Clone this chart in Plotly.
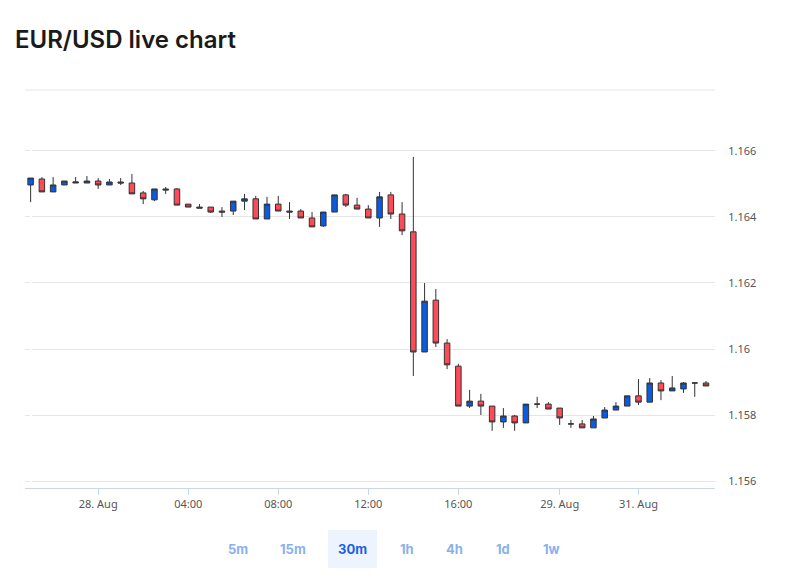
import plotly.graph_objects as go

opens  = [1.16497,1.16515,1.16476,1.16497,1.16503,1.16503,1.16509,1.16497,1.16506,1.16503,
          1.16473,1.16452,1.16485,1.16485,1.16439,1.16430,1.16430,1.16418,1.16418,1.16448,
          1.16455,1.16394,1.16439,1.16418,1.16418,1.16397,1.16373,1.16415,1.16467,1.16436,
          1.16424,1.16397,1.16467,1.16409,1.16355,1.15991,1.16148,1.16018,1.15948,1.15827,
          1.15842,1.15827,1.15779,1.15797,1.15776,1.15833,1.15833,1.15821,1.15773,1.15773,
          1.15761,1.15791,1.15815,1.15827,1.15858,1.15839,1.15897,1.15873,1.15879,1.15897,1.15897]
highs  = [1.16518,1.16521,1.16521,1.16509,1.16521,1.16524,1.16518,1.16515,1.16518,1.16530,
          1.16479,1.16485,1.16491,1.16488,1.16439,1.16439,1.16430,1.16430,1.16448,1.16470,
          1.16464,1.16461,1.16464,1.16445,1.16424,1.16415,1.16415,1.16467,1.16470,1.16458,
          1.16436,1.16476,1.16476,1.16445,1.16582,1.16200,1.16182,1.16030,1.15955,1.15876,
          1.15864,1.15827,1.15821,1.15800,1.15833,1.15855,1.15839,1.15821,1.15785,1.15785,
          1.15797,1.15824,1.15839,1.15858,1.15909,1.15912,1.15906,1.15918,1.15900,1.15900,1.15903]
lows   = [1.16445,1.16476,1.16476,1.16497,1.16503,1.16503,1.16485,1.16497,1.16497,1.16470,
          1.16439,1.16448,1.16470,1.16436,1.16430,1.16427,1.16412,1.16400,1.16406,1.16421,
          1.16394,1.16394,1.16418,1.16394,1.16397,1.16370,1.16370,1.16415,1.16430,1.16424,
          1.16397,1.16370,1.16394,1.16345,1.15918,1.15991,1.16006,1.15939,1.15827,1.15821,
          1.15800,1.15752,1.15761,1.15752,1.15776,1.15821,1.15818,1.15770,1.15761,1.15761,
          1.15761,1.15791,1.15815,1.15827,1.15830,1.15839,1.15845,1.15873,1.15867,1.15855,1.15888]
closes = [1.16518,1.16476,1.16497,1.16509,1.16506,1.16509,1.16497,1.16506,1.16503,1.16470,
          1.16455,1.16485,1.16482,1.16436,1.16430,1.16427,1.16415,1.16415,1.16448,1.16455,
          1.16394,1.16439,1.16418,1.16415,1.16397,1.16370,1.16415,1.16467,1.16436,1.16424,
          1.16397,1.16461,1.16409,1.16358,1.15991,1.16145,1.16018,1.15952,1.15827,1.15842,
          1.15827,1.15779,1.15797,1.15776,1.15833,1.15833,1.15818,1.15791,1.15773,1.15761,
          1.15788,1.15815,1.15827,1.15858,1.15839,1.15897,1.15873,1.15882,1.15897,1.15897,1.15888]
xs = list(range(len(opens)))

tick_pos = [6, 14, 22, 30, 38, 47, 54]
tick_text = ["28. Aug", "04:00", "08:00", "12:00", "16:00", "29. Aug", "31. Aug"]
y_ticks = [1.156, 1.158, 1.16, 1.162, 1.164, 1.166]
y_text = ["1.156", "1.158", "1.16", "1.162", "1.164", "1.166"]
buttons = ["5m", "15m", "30m", "1h", "4h", "1d", "1w"]

fig = go.Figure(go.Candlestick(
    x=xs, open=opens, high=highs, low=lows, close=closes,
    increasing=dict(line=dict(color="#333333", width=1), fillcolor="#0a5be0"),
    decreasing=dict(line=dict(color="#333333", width=1), fillcolor="#ff4b57"),
    whiskerwidth=0, hoverinfo="skip"))

W, H = 776, 566
fig.update_layout(
    width=W, height=H, margin=dict(l=17, r=69, t=82, b=86),
    paper_bgcolor="white", plot_bgcolor="white", showlegend=False,
    font=dict(family="Noto Sans", color="#555"),
    xaxis=dict(range=[-0.5, 60.8], rangeslider=dict(visible=False), tickvals=tick_pos,
               ticktext=tick_text, showgrid=False, showline=True, linecolor="#ccd6eb",
               ticks="outside", tickcolor="#ccd6eb", ticklen=6, tickfont=dict(size=11, color="#555")),
    yaxis=dict(side="right", range=[1.155788, 1.167848], tickvals=y_ticks, ticktext=y_text,
               gridcolor="#e6e6e6", zeroline=False, tickfont=dict(size=11, color="#555"),
               ticks="outside", ticklen=10, tickcolor="rgba(0,0,0,0)"),
    title=dict(text="EUR/USD live chart", x=7 / W, y=1 - 32 / H, xanchor="left", yanchor="middle",
               xref="container", yref="container",
               font=dict(size=24, color="#1a1a1a", family="Inter", weight=600)),
)
fig.add_shape(type="line", xref="paper", yref="paper", x0=0, x1=1, y0=1, y1=1,
              line=dict(color="#e6e6e6", width=1))

bx = [238, 293, 352, 407, 454, 503, 551]
fig.add_shape(type="rect", xref="paper", yref="paper",
              x0=(328 - 25) / 690, x1=(377 - 25) / 690,
              y0=(488 - 568) / 398, y1=(488 - 530) / 398,
              fillcolor="#edf4fe", line=dict(width=0), layer="below")
for b, x in zip(buttons, bx):
    sel = b == "30m"
    fig.add_annotation(text=f"<b>{b}</b>", xref="paper", yref="paper",
                       x=(x - 25) / 690, y=(488 - 549) / 398, xanchor="center", yanchor="middle",
                       showarrow=False,
                       font=dict(size=13, color="#1c5ee8" if sel else "#8ab0ee", family="Inter"))

fig.write_html("out.html")
